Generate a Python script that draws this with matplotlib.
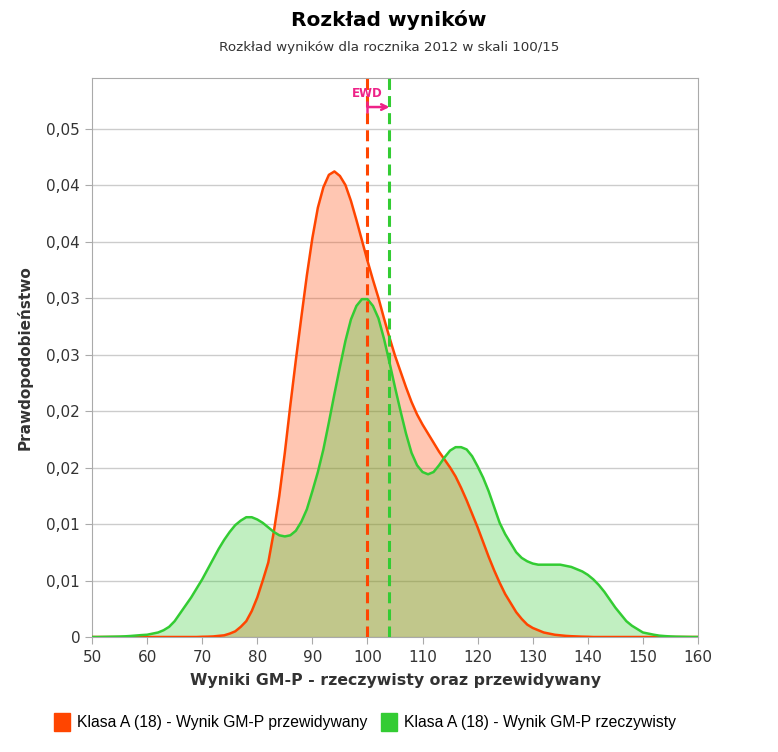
import matplotlib.pyplot as plt
from matplotlib.ticker import FixedLocator

# wyniki (os X) co 1 punkt
wyniki = list(range(50, 161))

przewidywany = [0] * 20 + [
    0.00002, 0.00003, 0.00005, 0.0001, 0.00015, 0.0003, 0.0005, 0.0009, 0.0014, 0.0023,  # 70-79
    0.0035, 0.0050, 0.0066, 0.0093, 0.0125, 0.0163, 0.0205, 0.0245, 0.0283, 0.0320,      # 80-89
    0.0353, 0.0380, 0.0398, 0.0409, 0.0412, 0.0408, 0.0400, 0.0386, 0.0369, 0.0351,      # 90-99
    0.0333, 0.0316, 0.0300, 0.0282, 0.0265, 0.0249, 0.0235, 0.0221, 0.0208, 0.0197,      # 100-109
    0.0188, 0.0180, 0.0172, 0.0164, 0.0157, 0.0150, 0.0142, 0.0132, 0.0121, 0.0109,      # 110-119
    0.0097, 0.0084, 0.0071, 0.0059, 0.0048, 0.0038, 0.0030, 0.0022, 0.0016, 0.0011,      # 120-129
    0.0008, 0.0006, 0.0004, 0.0003, 0.0002, 0.00015, 0.0001, 0.00007, 0.00005, 0.00003,  # 130-139
    0.00002] + [0] * 20

rzeczywisty = [
    0, 0, 0.00001, 0.00002, 0.00003, 0.00004, 0.00006, 0.00009, 0.00013, 0.00017,        # 50-59
    0.0002, 0.0003, 0.0004, 0.0006, 0.0009, 0.0014, 0.0021, 0.0028, 0.0035, 0.0043,      # 60-69
    0.0051, 0.0060, 0.0069, 0.0078, 0.0086, 0.0093, 0.0099, 0.0103, 0.0106, 0.0106,      # 70-79
    0.0104, 0.0101, 0.0097, 0.0093, 0.0090, 0.0089, 0.0090, 0.0094, 0.0102, 0.0113,      # 80-89
    0.0129, 0.0146, 0.0166, 0.0190, 0.0215, 0.0239, 0.0262, 0.0281, 0.0293, 0.0299,      # 90-99
    0.0299, 0.0293, 0.0282, 0.0264, 0.0243, 0.0221, 0.0200, 0.0180, 0.0163, 0.0152,      # 100-109
    0.0146, 0.0144, 0.0146, 0.0152, 0.0159, 0.0165, 0.0168, 0.0168, 0.0166, 0.0160,      # 110-119
    0.0151, 0.0141, 0.0129, 0.0115, 0.0101, 0.0091, 0.0083, 0.0075, 0.0070, 0.0067,      # 120-129
    0.0065, 0.0064, 0.0064, 0.0064, 0.0064, 0.0064, 0.0063, 0.0062, 0.0060, 0.0058,      # 130-139
    0.0055, 0.0051, 0.0046, 0.0040, 0.0033, 0.0026, 0.0020, 0.0014, 0.0010, 0.0007,      # 140-149
    0.0004, 0.0003, 0.0002, 0.00012, 0.00008, 0.00005, 0.00003, 0.00002, 0.00001, 0,     # 150-159
    0]

ewd_przew = 100
ewd_rzecz = 104
ewd_y = 0.0469

y_ticks = [0, 0.005, 0.01, 0.015, 0.02, 0.025, 0.03, 0.035, 0.04, 0.045]
y_labels = ['0', '0,01', '0,01', '0,02', '0,02', '0,03', '0,03', '0,04', '0,04', '0,05']
x_ticks = list(range(50, 170, 10))

ORANGE = '#ff4500'
GREEN = '#33cc33'
PINK = '#ee2288'
GRID = '#cccccc'

fig = plt.figure(figsize=(7.78, 7.52), dpi=100)
ax = fig.add_axes([92 / 778, 1 - 637 / 752, 606 / 778, 559 / 752])

ax.fill_between(wyniki, przewidywany, color=ORANGE, alpha=0.3, lw=0, zorder=2)
ax.fill_between(wyniki, rzeczywisty, color=GREEN, alpha=0.3, lw=0, zorder=2)
ax.plot(wyniki, przewidywany, color=ORANGE, lw=1.8, zorder=4,
        label='Klasa A (18) - Wynik GM-P przewidywany')
ax.plot(wyniki, rzeczywisty, color=GREEN, lw=1.8, zorder=4,
        label='Klasa A (18) - Wynik GM-P rzeczywisty')

ax.axvline(ewd_przew, color=ORANGE, lw=2.2, ls=(0, (3.6, 2.0)), zorder=5)
ax.axvline(ewd_rzecz, color=GREEN, lw=2.2, ls=(0, (3.6, 2.0)), zorder=5)

# strzalka EWD
ax.annotate('', xy=(ewd_rzecz, ewd_y), xytext=(ewd_przew, ewd_y),
            arrowprops=dict(arrowstyle='->', color=PINK, lw=1.8,
                            shrinkA=0, shrinkB=0, mutation_scale=10), zorder=6)
ax.plot([ewd_przew], [ewd_y], marker='|', color=PINK, ms=9, mew=1.8, zorder=6)
ax.text(ewd_przew, 0.0481, 'EWD', color=PINK, fontsize=8.5, fontweight='bold',
        ha='center', va='center', zorder=6)

ax.set_xlim(50, 160)
ax.set_ylim(0, 0.04947)
ax.xaxis.set_major_locator(FixedLocator(x_ticks))
ax.set_yticks(y_ticks)
ax.set_yticklabels(y_labels)
ax.tick_params(axis='both', colors='#aaaaaa', labelcolor='#333333', labelsize=11, length=5)
ax.tick_params(axis='x', pad=4)
ax.grid(axis='y', color=GRID, lw=1, zorder=0)
ax.set_axisbelow(True)
for s in ax.spines.values():
    s.set_color('#aaaaaa')

ax.set_xlabel('Wyniki GM-P - rzeczywisty oraz przewidywany', fontsize=11.3,
              fontweight='bold', color='#333333', labelpad=6)
ax.set_ylabel('Prawdopodobieństwo', fontsize=11, fontweight='bold', color='#333333', labelpad=10)

fig.text(0.5, 1 - 20 / 752, 'Rozkład wyników', ha='center', va='center',
         fontsize=14.5, fontweight='bold', color='black')
fig.text(0.5, 1 - 48 / 752, 'Rozkład wyników dla rocznika 2012 w skali 100/15', ha='center',
         va='center', fontsize=9.7, color='#333333')

handles, labels = ax.get_legend_handles_labels()
proxies = [plt.Rectangle((0, 0), 1, 1, color=ORANGE), plt.Rectangle((0, 0), 1, 1, color=GREEN)]
fig.legend(proxies, labels, loc='center', bbox_to_anchor=(0.469, 1 - 722 / 752), ncol=2,
           frameon=False, handlelength=1.0, handleheight=1.3, handletextpad=0.45,
           columnspacing=0.9, prop={'family': 'Liberation Sans', 'size': 11.3})

fig.savefig('out.png', dpi=100)
